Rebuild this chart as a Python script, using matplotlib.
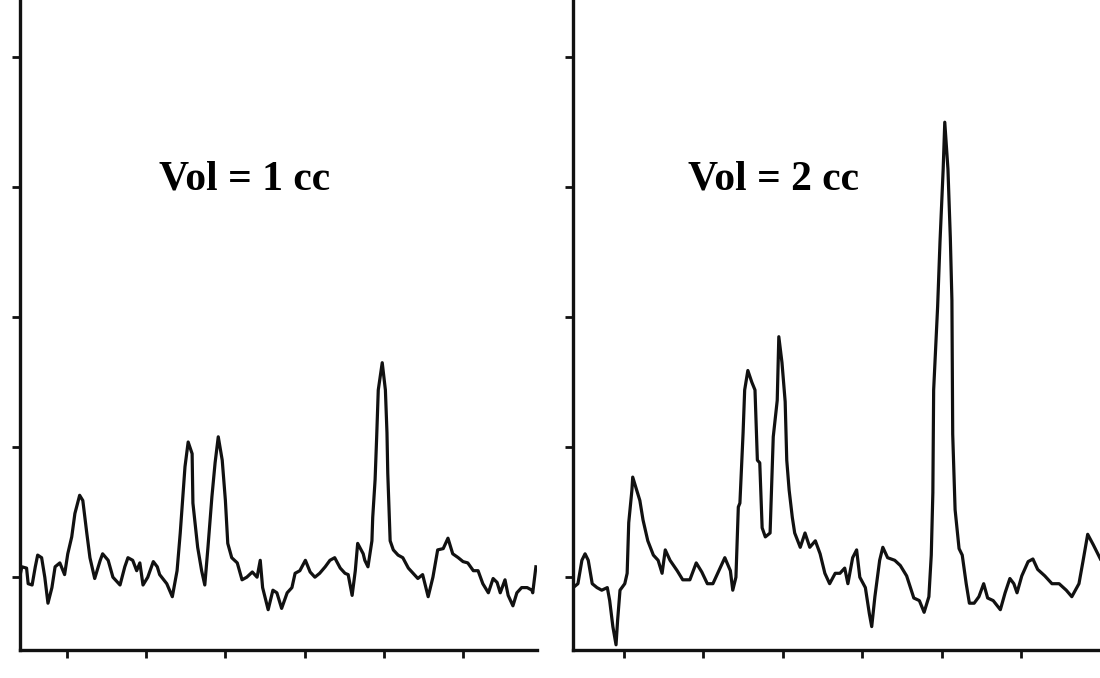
'''
plot.py
two spectra side by side, sample volume 1 cc and 2 cc
'''
import numpy as np
import matplotlib
matplotlib.use("Agg")
import matplotlib.pyplot as plt

# trace for Vol = 1 cc  (x in tick units, y in tick units)
x1 = [0.41, 0.43, 0.49, 0.51, 0.56, 0.60, 0.63, 0.68, 0.72, 0.76, 0.81, 0.85, 0.91, 0.97,
      1.01, 1.06, 1.10, 1.16, 1.20, 1.25, 1.29, 1.35, 1.42, 1.45, 1.52, 1.58, 1.67, 1.73,
      1.77, 1.83, 1.88, 1.92, 1.96, 2.02, 2.09, 2.14, 2.17, 2.26, 2.33, 2.39, 2.43, 2.49,
      2.53, 2.58, 2.59, 2.65, 2.70, 2.74, 2.78, 2.83, 2.87, 2.91, 2.96, 3.00, 3.03, 3.08,
      3.15, 3.21, 3.27, 3.34, 3.40, 3.44, 3.47, 3.54, 3.60, 3.65, 3.71, 3.78, 3.84, 3.88,
      3.94, 4.01, 4.07, 4.13, 4.19, 4.26, 4.32, 4.38, 4.45, 4.51, 4.55, 4.60, 4.64, 4.67,
      4.74, 4.76, 4.80, 4.85, 4.86, 4.89, 4.91, 4.93, 4.98, 5.02, 5.04, 5.05, 5.08, 5.12,
      5.18, 5.24, 5.31, 5.37, 5.43, 5.49, 5.56, 5.62, 5.68, 5.75, 5.81, 5.87, 5.94, 6.00,
      6.06, 6.13, 6.19, 6.25, 6.32, 6.38, 6.43, 6.47, 6.53, 6.57, 6.63, 6.68, 6.74, 6.81,
      6.87, 6.88, 6.92]
y1 = [0.02, 0.08, 0.07, -0.05, -0.06, 0.08, 0.17, 0.15, 0.00, -0.20, -0.08, 0.08, 0.11, 0.02,
      0.18, 0.31, 0.49, 0.63, 0.59, 0.34, 0.15, -0.01, 0.13, 0.18, 0.13, 0.00, -0.06, 0.08,
      0.15, 0.13, 0.05, 0.11, -0.06, 0.00, 0.12, 0.08, 0.02, -0.05, -0.15, 0.05, 0.34, 0.85,
      1.04, 0.95, 0.57, 0.23, 0.05, -0.06, 0.23, 0.62, 0.88, 1.08, 0.90, 0.59, 0.26, 0.15,
      0.11, -0.02, 0.00, 0.04, 0.00, 0.13, -0.08, -0.25, -0.10, -0.12, -0.24, -0.12, -0.08, 0.03,
      0.05, 0.13, 0.04, 0.00, 0.03, 0.08, 0.13, 0.15, 0.07, 0.03, 0.02, -0.14, 0.05, 0.26,
      0.18, 0.13, 0.08, 0.28, 0.46, 0.75, 1.08, 1.44, 1.65, 1.44, 1.11, 0.80, 0.28, 0.21,
      0.17, 0.15, 0.07, 0.03, -0.01, 0.02, -0.15, 0.00, 0.21, 0.22, 0.30, 0.18, 0.15, 0.12,
      0.11, 0.05, 0.05, -0.05, -0.12, -0.01, -0.04, -0.12, -0.02, -0.14, -0.22, -0.12, -0.08, -0.08,
      -0.10, -0.12, 0.08]

# trace for Vol = 2 cc
x2 = [0.36, 0.42, 0.47, 0.51, 0.55, 0.60, 0.66, 0.72, 0.79, 0.82, 0.86, 0.90, 0.92, 0.95,
      1.01, 1.04, 1.06, 1.10, 1.11, 1.16, 1.20, 1.24, 1.30, 1.37, 1.43, 1.48, 1.52, 1.58,
      1.67, 1.74, 1.83, 1.91, 1.98, 2.05, 2.12, 2.18, 2.27, 2.34, 2.37, 2.41, 2.44, 2.46,
      2.50, 2.52, 2.56, 2.61, 2.65, 2.68, 2.71, 2.74, 2.78, 2.84, 2.88, 2.93, 2.95, 2.99,
      3.03, 3.05, 3.08, 3.12, 3.15, 3.22, 3.28, 3.34, 3.41, 3.47, 3.53, 3.59, 3.66, 3.72,
      3.78, 3.82, 3.88, 3.93, 3.97, 4.04, 4.09, 4.12, 4.16, 4.22, 4.26, 4.32, 4.41, 4.48,
      4.56, 4.65, 4.72, 4.78, 4.84, 4.87, 4.89, 4.90, 4.95, 4.98, 5.02, 5.04, 5.08, 5.11,
      5.13, 5.14, 5.17, 5.22, 5.26, 5.31, 5.35, 5.41, 5.47, 5.53, 5.58, 5.65, 5.74, 5.80,
      5.86, 5.91, 5.95, 6.01, 6.09, 6.15, 6.21, 6.30, 6.39, 6.48, 6.57, 6.64, 6.73, 6.78,
      6.84, 6.91, 7.00]
y2 = [-0.08, -0.05, 0.13, 0.18, 0.13, -0.05, -0.08, -0.10, -0.08, -0.18, -0.38, -0.52, -0.33, -0.10,
      -0.05, 0.03, 0.42, 0.67, 0.77, 0.67, 0.59, 0.44, 0.28, 0.17, 0.13, 0.03, 0.21, 0.13,
      0.05, -0.02, -0.02, 0.11, 0.04, -0.05, -0.05, 0.03, 0.15, 0.05, -0.10, 0.00, 0.54, 0.57,
      1.11, 1.44, 1.59, 1.50, 1.44, 0.90, 0.88, 0.38, 0.31, 0.34, 1.08, 1.36, 1.85, 1.65,
      1.35, 0.90, 0.67, 0.46, 0.34, 0.23, 0.34, 0.23, 0.28, 0.18, 0.03, -0.05, 0.03, 0.03,
      0.07, -0.05, 0.15, 0.21, 0.00, -0.08, -0.28, -0.38, -0.15, 0.13, 0.23, 0.15, 0.13, 0.09,
      0.01, -0.16, -0.18, -0.27, -0.15, 0.17, 0.65, 1.44, 2.08, 2.58, 3.14, 3.50, 3.14, 2.61,
      2.13, 1.10, 0.52, 0.22, 0.17, -0.05, -0.20, -0.20, -0.15, -0.05, -0.16, -0.18, -0.25, -0.12,
      -0.01, -0.05, -0.12, 0.01, 0.12, 0.14, 0.06, 0.01, -0.05, -0.05, -0.10, -0.15, -0.05, 0.12,
      0.33, 0.25, 0.14]

labels = ["Vol = 1 cc", "Vol = 2 cc"]
xticks = [1, 2, 3, 4, 5, 6]
yticks = [0, 1, 2, 3, 4]


def style_axis(ax, xlim):
    '''
    only left and bottom spines, outward ticks, no tick labels
    '''
    ax.set_xlim(xlim)
    ax.set_ylim(-0.56, 4.44)
    for s in ["top", "right"]:
        ax.spines[s].set_visible(False)
    for s in ["left", "bottom"]:
        ax.spines[s].set_linewidth(2.4)
        ax.spines[s].set_color("#111111")
    ax.set_xticks(xticks)
    ax.set_yticks(yticks)
    ax.tick_params(direction="out", length=6, width=2, color="#111111",
                   labelbottom=False, labelleft=False)
    ax.patch.set_alpha(0)


fig = plt.figure(figsize=(11, 6.78), dpi=100)
ax1 = fig.add_axes([20/1100, 28/678, 517/1100, 650/678])
ax2 = fig.add_axes([573/1100, 28/678, 527/1100, 650/678])

ax1.plot(x1, y1, color="#111111", lw=2.3, solid_joinstyle="round")
ax2.plot(x2, y2, color="#111111", lw=2.3, solid_joinstyle="round")
style_axis(ax1, (0.407, 6.934))
style_axis(ax2, (0.358, 6.995))

fig.text(245/1100, 1 - 180/678, labels[0], ha="center", va="center",
         fontsize=30, fontweight="bold", family="Liberation Serif")
fig.text(773/1100, 1 - 180/678, labels[1], ha="center", va="center",
         fontsize=30, fontweight="bold", family="Liberation Serif")

fig.savefig("out.png", dpi=100)
